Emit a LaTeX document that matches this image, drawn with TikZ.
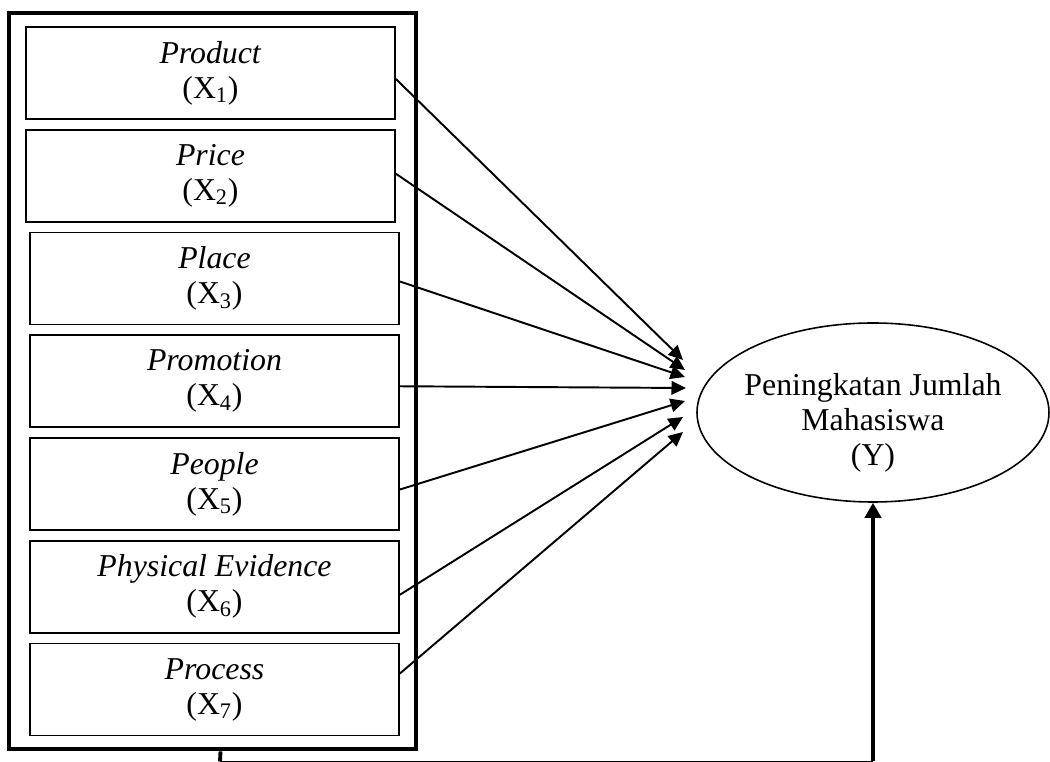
\documentclass[tikz,border=0pt]{standalone}
\usepackage{fontspec}
\setmainfont{Liberation Serif}
\usetikzlibrary{positioning,fit,shapes.geometric,arrows.meta}

\newcommand{\diagfont}{\fontsize{18.1}{19.9}\selectfont}

\tikzset{
    varbox/.style={draw, line width=1pt, minimum width=7.38cm, minimum height=1.84cm,
                   inner sep=0pt, align=center, font=\diagfont},
    frame/.style={draw, line width=2.3pt, inner xsep=0.32cm, inner ysep=0.26cm},
    link/.style={line width=1.1pt, -{Triangle[length=0.29cm,width=0.27cm]}},
    feedback/.style={line width=2.2pt},
}

\begin{document}
\begin{tikzpicture}[node distance=0.18cm]

    \useasboundingbox (0,0) rectangle (21,15.24);

    % marketing mix variables
    \node[varbox] (b1) at (4.21,13.78) {\textit{Product}\\(X\textsubscript{1})};
    \node[varbox, below=of b1] (b2) {\textit{Price}\\(X\textsubscript{2})};
    \node[varbox, below=of b2, xshift=0.08cm] (b3) {\textit{Place}\\(X\textsubscript{3})};
    \node[varbox, below=of b3] (b4) {\textit{Promotion}\\(X\textsubscript{4})};
    \node[varbox, below=of b4] (b5) {\textit{People}\\(X\textsubscript{5})};
    \node[varbox, below=of b5] (b6) {\textit{Physical Evidence}\\(X\textsubscript{6})};
    \node[varbox, below=of b6] (b7) {\textit{Process}\\(X\textsubscript{7})};

    \node[frame, fit=(b1)(b3)(b7)] (mix) {};

    % dependent variable
    \node[draw, ellipse, line width=0.9pt, minimum width=7.04cm, minimum height=3.58cm,
          inner sep=0pt] (Y) at (17.46,6.99) {};
    \node[align=center, font=\diagfont] (ytext) at ([yshift=-0.2cm]Y.center)
        {Peningkatan Jumlah\\Mahasiswa\\(Y)};

    % arrow tips
    \coordinate (t1) at (13.66,8.04);
    \coordinate (t2) at (13.70,7.84);
    \coordinate (t3) at (13.70,7.70);
    \coordinate (t4) at (13.72,7.48);
    \coordinate (t5) at (13.70,7.22);
    \coordinate (t6) at (13.66,6.90);
    \coordinate (t7) at (13.66,6.60);

    \foreach \i/\dy in {1/-0.12, 2/0.04, 3/-0.06, 4/-0.10, 5/-0.11, 6/-0.16, 7/0.32}
        \draw[link] ([yshift=\dy cm]b\i.east) -- (t\i);

    % simultaneous effect
    \coordinate (c1) at (4.40,0.01);
    \coordinate (c2) at (Y.south |- c1);
    \draw[feedback] ([xshift=0.16cm]mix.south) -- (c1);
    \draw[line width=1pt] (c1) -- (c2);
    \draw[feedback, -{Triangle[length=0.3cm,width=0.32cm]}] (c2) -- (Y.south);

\end{tikzpicture}
\end{document}
